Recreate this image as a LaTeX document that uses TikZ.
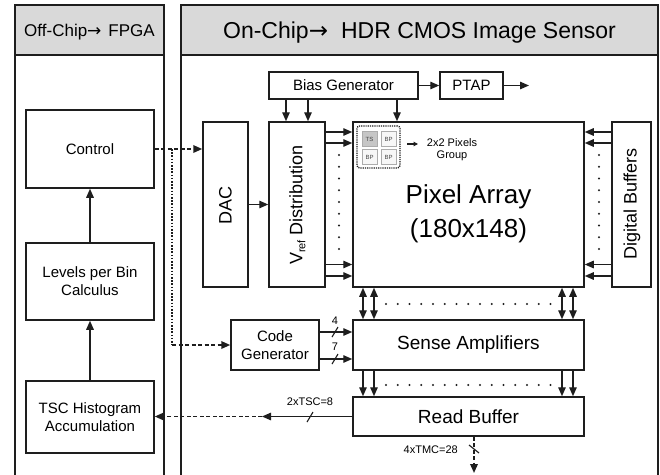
\documentclass[tikz,border=0pt]{standalone}
\usepackage{fontspec}
\setmainfont{Liberation Sans}
\newfontfamily\arrfont{DejaVu Sans}
\usetikzlibrary{arrows.meta}
\newcommand{\fsz}[2]{\fontsize{#1}{#2}\selectfont}
\newcommand{\rarr}{{\arrfont →}}
\definecolor{ln}{HTML}{1E1E1E}
\definecolor{hdr}{HTML}{D9D9D9}
\begin{document}
\begin{tikzpicture}[x=1pt,y=-1pt,
  box/.style={draw=ln, line width=1.5pt, fill=white, inner sep=0pt, align=center, font=\fsz{15}{18}},
  hdrbox/.style={draw=ln, line width=1.5pt, fill=hdr, inner sep=0pt, text height=12pt, text depth=0pt},
  tip/.style={-{Triangle[length=9pt,width=7.5pt]}},
  arr/.style={draw=ln, line width=1.4pt, tip},
  darr/.style={draw=ln, line width=1.4pt, {Triangle[length=9pt,width=7.5pt]}-{Triangle[length=9pt,width=7.5pt]}},
  dsh/.style={draw=ln, line width=1.8pt, dash pattern=on 4pt off 2.5pt},
  dotl/.style={draw=ln, line width=1.8pt, dash pattern=on 1.6pt off 1.6pt},
  slash/.style={draw=ln, line width=1.1pt},
  lbl/.style={font=\fsz{11}{13}, inner sep=0pt},
  cell/.style={draw=gray!65, line width=0.7pt, minimum width=15pt, minimum height=15pt, inner sep=0pt, font=\fsz{6}{7}, text=gray!55!black},
  dotc/.style={fill=ln},
]
\useasboundingbox (0,0) rectangle (660,474);
\clip (0,0) rectangle (660,474);

% panels
\draw[draw=ln, line width=1.5pt] (15,5) rectangle (164,495);
\draw[draw=ln, line width=1.5pt] (181,5) rectangle (658,495);
\node[hdrbox, minimum width=149pt, minimum height=50pt, font=\fsz{17}{20}] (lhdr) at (89.5,30) {Off-Chip\rarr\hspace{7pt}FPGA};
\node[hdrbox, minimum width=477pt, minimum height=50pt, font=\fsz{23}{26}, text height=16.5pt] (rhdr) at (419.5,30) {On-Chip\rarr\hspace{13pt}HDR CMOS Image Sensor};

% off-chip boxes
\node[box, minimum width=128pt, minimum height=78pt] (control) at (90,149) {Control};
\node[box, minimum width=128pt, minimum height=77pt] (levels) at (90,281.5) {Levels per Bin\\Calculus};
\node[box, minimum width=128pt, minimum height=72pt] (tsc) at (90,417) {TSC Histogram\\Accumulation};

% on-chip boxes
\node[box, minimum width=45pt, minimum height=165pt] (dac) at (225.5,204.5) {};
\node[rotate=90, font=\fsz{18}{20}, inner sep=0pt] (dactxt) at (225.5,205) {DAC};
\node[box, minimum width=56pt, minimum height=165pt] (vref) at (297,204.5) {};
\node[rotate=90, font=\fsz{18}{20}, inner sep=0pt] (vreftxt) at (297.5,205) {V\raisebox{-3pt}{\fsz{11}{12}ref} Distribution};
\node[box, minimum width=149pt, minimum height=27pt] (bias) at (343.5,85.5) {Bias Generator};
\node[box, minimum width=63pt, minimum height=27pt] (ptap) at (471.5,85.5) {PTAP};
\node[box, minimum width=231pt, minimum height=165pt] (pix) at (468.5,204.5) {};
\node[font=\fsz{26}{34}, align=center, inner sep=0pt] (pixtxt) at (468.5,214) {Pixel Array\\(180x148)};
\node[box, minimum width=39pt, minimum height=165pt] (dbuf) at (631.5,204.5) {};
\node[rotate=90, font=\fsz{18}{20}, inner sep=0pt] (dbuftxt) at (632,204) {Digital Buffers};
\node[box, minimum width=88pt, minimum height=50pt] (codegen) at (275,345) {Code\\Generator};
\node[box, minimum width=231pt, minimum height=50pt, font=\fsz{19}{22}] (sa) at (468.5,345) {Sense Amplifiers};
\node[box, minimum width=231pt, minimum height=39pt, font=\fsz{19}{22}] (rb) at (468.5,416.5) {Read Buffer};

% 2x2 pixel group
\node[draw=ln, line width=1.3pt, dash pattern=on 1.2pt off 1pt, rounded corners=2.5pt, minimum width=43pt, minimum height=42pt, inner sep=0pt] (grp) at (378.5,147) {};
\node[cell, fill=gray!45] (g1) at (369.5,139) {TS};
\node[cell, fill=gray!6] (g2) at (388.5,139) {BP};
\node[cell, fill=gray!6] (g3) at (369.5,157) {BP};
\node[cell, fill=gray!6] (g4) at (388.5,157) {BP};
\node[font=\fsz{11}{12.5}, align=center, inner sep=0pt] (grptxt) at (452,149.5) {2x2 Pixels\\Group};
\coordinate (ga) at (407,144);
\draw[draw=ln, line width=1.1pt, -{Triangle[length=4.5pt,width=4.5pt]}] (ga) -- (418,144);

% helper coordinates
\coordinate (jn) at (172,149);
\coordinate (bx1) at (286,0);
\coordinate (bx2) at (308,0);
\coordinate (bx3) at (397,0);
\coordinate (pout) at (529,85.5);
\coordinate (r1) at (0,132);
\coordinate (r2) at (0,143);
\coordinate (r3) at (0,264.5);
\coordinate (r4) at (0,276);
\coordinate (c1) at (363,0);
\coordinate (c2) at (374,0);
\coordinate (c3) at (562,0);
\coordinate (c4) at (573,0);
\coordinate (k1) at (0,332);
\coordinate (k2) at (0,359);
\coordinate (rbm) at (262,416.5);
\coordinate (rbout) at (474,473);

% off-chip arrows
\draw[arr] (levels.north) -- (control.south);
\draw[arr] (tsc.north) -- (levels.south);

% control to DAC and code generator
\draw[dsh, tip] (control.east) -- (control.east -| dac.west);
\draw[dotl] (jn) -- (jn |- codegen.west);
\draw[dsh, tip] (jn |- codegen.west) -- (codegen.west);

% read buffer to TSC
\draw[arr] (rb.west) -- (rbm);
\draw[dsh, tip] (rbm) -- (tsc.east |- rbm);
\draw[slash] (307,422) -- (313,412);
\node[lbl] (tsclbl) at (310,402) {2xTSC=8};

% DAC, bias
\draw[arr] (dac.east) -- (vref.west);
\draw[arr] (bias.south -| bx1) -- (vref.north -| bx1);
\draw[arr] (bias.south -| bx2) -- (vref.north -| bx2);
\draw[arr] (bias.south -| bx3) -- (pix.north -| bx3);
\draw[arr] (bias.east) -- (ptap.west);
\draw[arr] (ptap.east) -- (pout);

% vref / digital buffers to pixel array
\foreach \r in {r1,r2,r3,r4} {
  \draw[arr] (vref.east |- \r) -- (pix.west |- \r);
  \draw[arr] (dbuf.west |- \r) -- (pix.east |- \r);
}
\foreach \i in {0,...,8} {
  \fill[dotc] (339,155+\i*11.75) circle (1.1pt);
  \fill[dotc] (599,155+\i*11.75) circle (1.1pt);
}

% pixel array <-> sense amps, sense amps -> read buffer
\foreach \c in {c1,c2,c3,c4} {
  \draw[darr] (pix.south -| \c) -- (sa.north -| \c);
  \draw[arr] (sa.south -| \c) -- (rb.north -| \c);
}
\foreach \i in {0,...,14} {
  \fill[dotc] (386+\i*11.75,304) circle (1.1pt);
  \fill[dotc] (386+\i*11.75,385) circle (1.1pt);
}

% code generator -> sense amps
\draw[arr] (codegen.east |- k1) -- (sa.west |- k1);
\draw[arr] (codegen.east |- k2) -- (sa.west |- k2);
\draw[slash] (332,337) -- (338,327);
\draw[slash] (332,364) -- (338,354);
\node[lbl] (lbl4) at (335,321) {4};
\node[lbl] (lbl7) at (335,347) {7};

% read buffer output
\draw[dsh, tip] (rbout |- rb.south) -- (rbout);
\draw[slash] (469,445) -- (479,453);
\node[lbl, anchor=east] (tmclbl) at (458,450) {4xTMC=28};
\end{tikzpicture}
\end{document}
